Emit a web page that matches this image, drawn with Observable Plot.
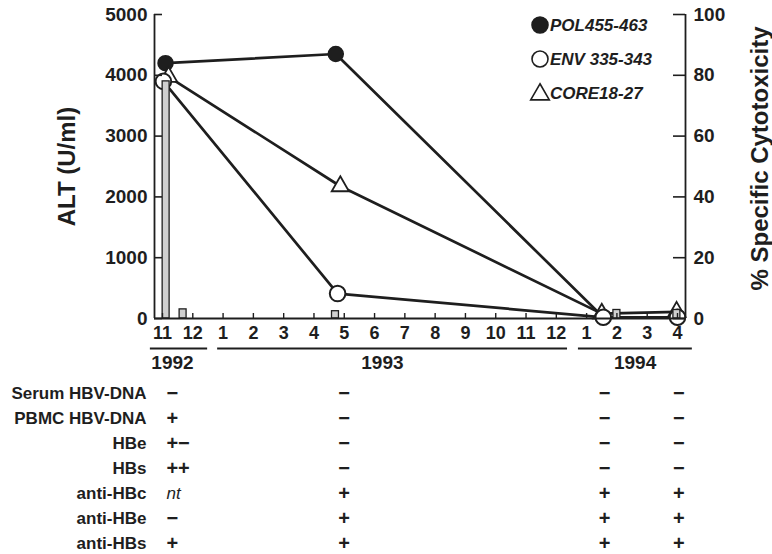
<!DOCTYPE html>
<html><head><meta charset="utf-8">
<script src="https://cdn.jsdelivr.net/npm/d3@7"></script>
<script src="https://cdn.jsdelivr.net/npm/@observablehq/plot@0.6"></script>
<style>
body{margin:0;background:#fff;}
#chart{position:relative;width:772px;height:554px;font-family:"Liberation Sans",Arial,Helvetica,sans-serif;color:#222;}
#chart > *{position:absolute;left:0;}
</style></head><body><div id="chart"></div>
<script>
// ---------- data ----------
const monthLabels = [11,12,1,2,3,4,5,6,7,8,9,10,11,12,1,2,3,4];   // Nov 1992 .. Apr 1994
const firstMonth = 11;                                             // time unit: months, Nov 1992 = 11
const years = ["1992", "1993", "1994"];
const yearStart = [10.6, 12.82, 24.73];
const yearEnd = [12.49, 24.37, 28.49];
const yearLabelAt = [11.33, 18.26, 26.6];

const altTime = [11.12, 11.68, 16.71, 26.0, 27.98];
const altValue = [3900, 150, 120, 140, 140];

const polTime = [11.1, 16.72, 25.55, 28.0];
const polPct = [84, 87, 0.4, 0.4];
const envTime = [11.03, 16.78, 25.55, 28.0];
const envPct = [78, 8.2, 0.4, 0.4];
const coreTime = [11.2, 16.87, 25.5, 27.97];
const corePct = [79.5, 43.5, 1.6, 2.2];

const legendLabels = ["POL455-463", "ENV 335-343", "CORE18-27"];

const rowLabels = ["Serum HBV-DNA", "PBMC HBV-DNA", "HBe", "HBs", "anti-HBc", "anti-HBe", "anti-HBs"];
const tableTime = [11.13, 16.8, 25.4, 27.85];
const col1 = ["−", "+", "+−", "++", "nt", "−", "+"];
const col2 = ["−", "−", "−", "−", "+", "+", "+"];
const col3 = ["−", "−", "−", "−", "+", "+", "+"];
const col4 = ["−", "−", "−", "−", "+", "+", "+"];

const altTicks = [0, 1000, 2000, 3000, 4000, 5000];
const pctTicks = [0, 20, 40, 60, 80, 100];

// ---------- layout ----------
const W = 772, H1 = 375, H2 = 179;
const mL = 154, mR = 87, mT = 14, mB = 57;
const plotW = W - mL - mR, plotH = H1 - mT - mB;
const xDomain = [10.736, 28.264];
const ink = "#1e1e1e";
const font = '"Liberation Sans", Arial, Helvetica, sans-serif';
const baseStyle = {background: "transparent", fontFamily: font, color: ink, overflow: "visible"};

const monthTimes = monthLabels.map((_, i) => firstMonth + i);
const bars = altTime.map((t, i) => ({t, v: altValue[i]}));
const mk = (name, ts, vs) => ts.map((t, i) => ({series: name, t, v: vs[i]}));
const pol = mk("POL", polTime, polPct), env = mk("ENV", envTime, envPct), core = mk("CORE", coreTime, corePct);
const yearData = years.map((y, i) => ({y, start: yearStart[i], end: yearEnd[i], at: yearLabelAt[i]}));
const cells = [col1, col2, col3, col4].flatMap((col, c) => col.map((s, r) => ({row: rowLabels[r], t: tableTime[c], s})));

const root = document.getElementById("chart");

// ---------- cytotoxicity (right axis) ----------
const pctPlot = Plot.plot({
  width: W, height: H1, marginLeft: mL, marginRight: mR, marginTop: mT, marginBottom: mB,
  style: baseStyle,
  x: {domain: xDomain, axis: null},
  y: {domain: [0, 100]},
  marks: [
    Plot.line([...pol, ...env, ...core], {x: "t", y: "v", z: "series", stroke: ink, strokeWidth: 2.7}),
    Plot.dot(pol, {x: "t", y: "v", r: 7.5, fill: ink, stroke: ink, strokeWidth: 1.5}),
    Plot.dot(core, {x: "t", y: "v", symbol: "triangle", r: 6.4, fill: "white", stroke: ink, strokeWidth: 1.8}),
    Plot.dot(env, {x: "t", y: "v", r: 7.8, fill: "white", stroke: ink, strokeWidth: 2}),
    Plot.tickY(pctTicks, {y: d => d, stroke: ink, strokeWidth: 1.6, insetLeft: plotW - 12}),
    Plot.axisY(pctTicks, {anchor: "right", tickSize: 0, tickPadding: 8, tickFormat: d => String(d), fontSize: 19, fontWeight: "bold", fill: ink, label: null}),
    Plot.text(["% Specific Cytotoxicity"], {text: d => d, frameAnchor: "right", textAnchor: "middle", rotate: -90, dx: 75, dy: -8, fontSize: 24, fontWeight: "bold", fill: ink})
  ]
});
pctPlot.style.top = "0px";
root.appendChild(pctPlot);

// ---------- ALT (left axis) ----------
const altPlot = Plot.plot({
  width: W, height: H1, marginLeft: mL, marginRight: mR, marginTop: mT, marginBottom: mB,
  style: baseStyle,
  x: {domain: xDomain},
  y: {domain: [0, 5000]},
  marks: [
    Plot.rect(bars, {x1: d => d.t - 0.115, x2: d => d.t + 0.115, y1: 0, y2: "v", fill: "#cfcfcf", stroke: ink, strokeWidth: 1.3}),
    Plot.ruleY([0], {stroke: ink, strokeWidth: 1.8}),
    Plot.ruleX(xDomain, {stroke: ink, strokeWidth: 1.8}),
    Plot.tickX(monthTimes, {x: d => d, stroke: ink, strokeWidth: 1.4, insetTop: plotH - 5}),
    Plot.tickY(altTicks, {y: d => d, stroke: ink, strokeWidth: 1.6, insetRight: plotW - 8}),
    Plot.axisY(altTicks, {anchor: "left", tickSize: 0, tickPadding: 7, tickFormat: d => String(d), fontSize: 19, fontWeight: "bold", fill: ink, label: null}),
    Plot.axisX(monthTimes, {anchor: "bottom", tickSize: 0, tickPadding: 8, tickFormat: t => monthLabels[t - firstMonth], fontSize: 18, fontWeight: "bold", fill: ink, label: null}),
    Plot.axisX(yearLabelAt, {anchor: "bottom", tickSize: 0, tickPadding: 37, tickFormat: t => years[yearLabelAt.indexOf(t)], fontSize: 19, fontWeight: "bold", fill: ink, label: null}),
    Plot.ruleY(yearData, {y: () => 0, x1: "start", x2: "end", dy: 30, stroke: ink, strokeWidth: 1.8}),
    Plot.text(["ALT (U/ml)"], {text: d => d, frameAnchor: "left", textAnchor: "middle", rotate: -90, dx: -87, fontSize: 24, fontWeight: "bold", fill: ink})
  ]
});
altPlot.style.top = "0px";
root.appendChild(altPlot);

// ---------- legend ----------
const leg = d3.create("svg").attr("width", 220).attr("height", 115)
  .style("left", "525px").style("top", "0px").style("overflow", "visible");
const legSym = [
  {type: "circle", fill: ink},
  {type: "circle", fill: "white"},
  {type: "triangle", fill: "white"}
];
legendLabels.forEach((lab, i) => {
  const cy = 25 + 34 * i;
  const g = leg.append("g").attr("transform", `translate(15,${cy})`);
  if (legSym[i].type === "circle") {
    g.append("circle").attr("r", 8).attr("fill", legSym[i].fill).attr("stroke", ink).attr("stroke-width", 1.6);
  } else {
    g.append("path").attr("d", d3.symbol(d3.symbolTriangle, 150)()).attr("transform", "translate(0,1.5)")
      .attr("fill", "white").attr("stroke", ink).attr("stroke-width", 1.6);
  }
  leg.append("text").attr("x", 25).attr("y", cy).attr("dy", "0.35em")
    .attr("font-family", font).attr("font-size", 17).attr("font-weight", "bold").attr("font-style", "italic")
    .attr("fill", ink).text(lab);
});
root.appendChild(leg.node());

// ---------- table ----------
const tablePlot = Plot.plot({
  width: W, height: H2, marginLeft: mL, marginRight: mR, marginTop: 17, marginBottom: 11,
  style: baseStyle,
  x: {domain: xDomain, axis: null},
  y: {type: "point", domain: rowLabels, padding: 0},
  marks: [
    Plot.axisY({anchor: "left", tickSize: 0, tickPadding: 8, fontSize: 17, fontWeight: "bold", fill: ink, label: null}),
    Plot.text(cells.filter(d => d.s !== "nt"), {x: "t", y: "row", text: "s", textAnchor: "start", fontSize: 20, fontWeight: "bold", fill: ink}),
    Plot.text(cells.filter(d => d.s === "nt"), {x: "t", y: "row", text: "s", textAnchor: "start", fontSize: 17, fontStyle: "italic", fill: ink})
  ]
});
tablePlot.style.top = H1 + "px";
root.appendChild(tablePlot);
</script>
</body></html>
